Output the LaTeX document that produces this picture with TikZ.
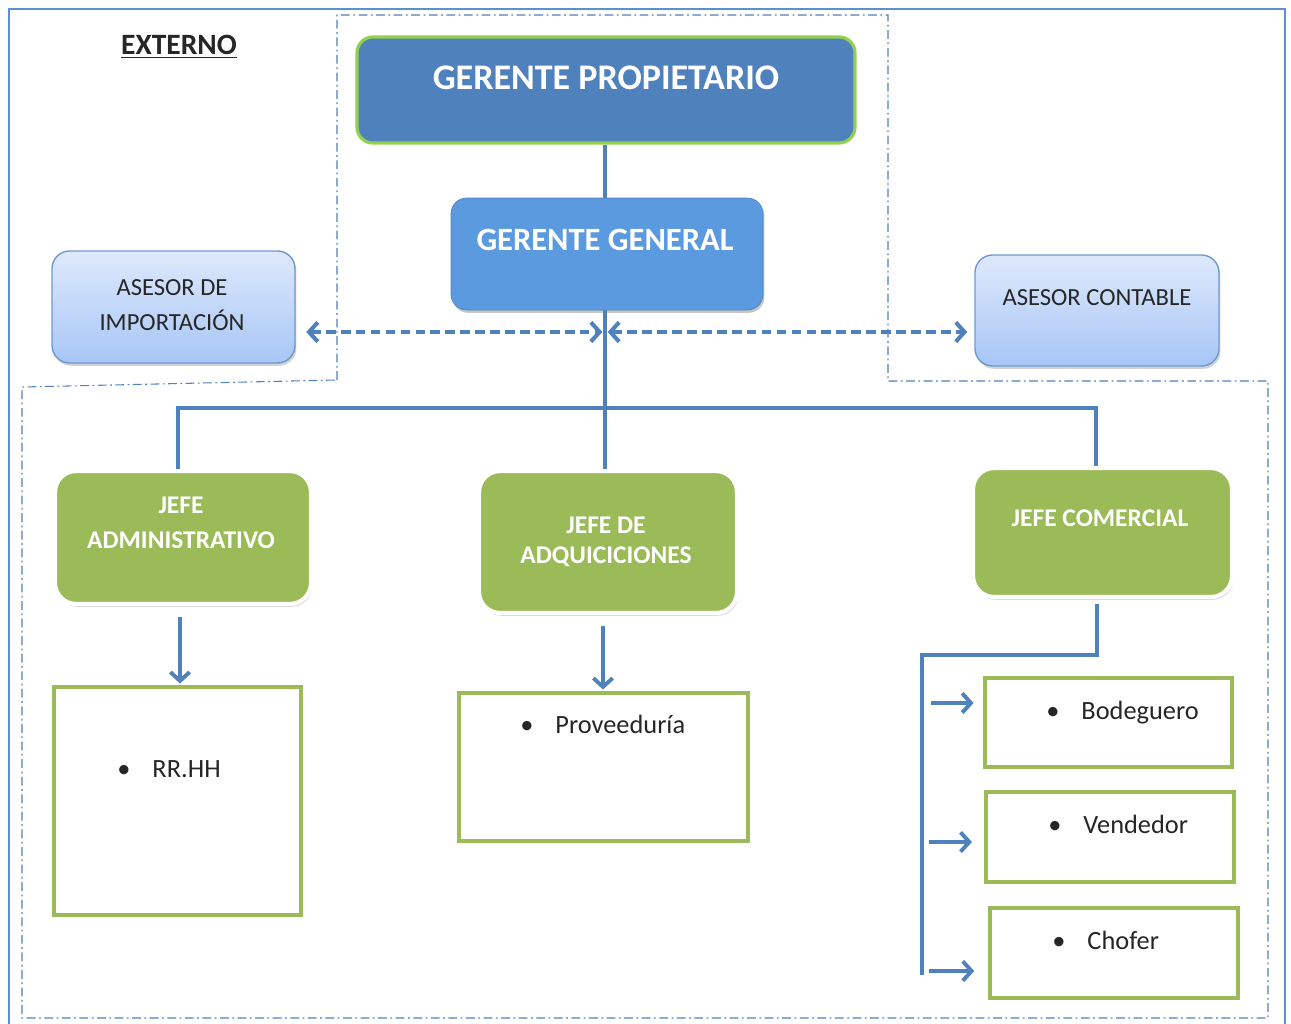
\documentclass[tikz,border=0pt]{standalone}
\usepackage{fontspec}
\setmainfont{Carlito}
\usetikzlibrary{shadows,arrows.meta,fit,calc}
\definecolor{dblue}{HTML}{4F81BD}
\definecolor{ggblue}{HTML}{5C9AE0}
\definecolor{lgreen}{HTML}{92D050}
\definecolor{jgreen}{HTML}{9BBB59}
\definecolor{astop}{HTML}{DEE9FC}
\definecolor{asbot}{HTML}{A7C6F6}
\definecolor{asedge}{HTML}{6E9AD3}
\definecolor{fblue}{HTML}{5B8FD6}
\tikzset{
  frameline/.style={draw=fblue, line width=1.1pt},
  zone/.style={draw=dblue, line width=0.6pt, dash pattern=on 5pt off 2pt on 1pt off 2pt},
  gpbox/.style={fill=dblue, draw=lgreen, line width=1.8pt, rounded corners=9pt, inner sep=0pt},
  ggbox/.style={fill=ggblue, draw=ggblue!85!black, line width=0.4pt, rounded corners=9pt, inner sep=0pt,
    drop shadow={opacity=0.45, shadow xshift=0.8pt, shadow yshift=-1.6pt}},
  asbox/.style={top color=astop, bottom color=asbot, draw=asedge, line width=0.8pt, rounded corners=10pt, inner sep=0pt,
    drop shadow={opacity=0.35, shadow xshift=0.8pt, shadow yshift=-1.6pt}},
  jbox/.style={fill=jgreen, draw=white, line width=2.4pt, rounded corners=12pt, inner sep=0pt,
    drop shadow={opacity=0.3, shadow xshift=0.8pt, shadow yshift=-1.6pt}},
  sbox/.style={draw=jgreen, line width=2pt, fill=white, inner sep=0pt},
  wtitle/.style={text=white, font=\bfseries, align=center},
  jtext/.style={text=white, font=\fontsize{14.5}{20}\selectfont\bfseries, align=center},
  astext/.style={text=black!85, font=\fontsize{14}{20}\selectfont, align=center},
  itemtext/.style={anchor=west, text=black!85, font=\fontsize{15}{18}\selectfont, text height=1.5ex, text depth=0.25ex, inner sep=0pt},
  conn/.style={draw=dblue, line width=2.2pt},
  connarrow/.style={conn, -{Straight Barb[length=5pt,width=11pt]}},
  darrow/.style={draw=dblue, line width=2.3pt, dash pattern=on 5.5pt off 3pt,
    {Straight Barb[length=5pt,width=11pt]}-{Straight Barb[length=5pt,width=11pt]}}
}
\begin{document}
\begin{tikzpicture}[x=0.02cm,y=-0.02cm]
\clip (0,0) rectangle (1291,1024);
\fill[white] (0,0) rectangle (1291,1024);
% outer frame
\draw[frameline] (9,1040) -- (9,9) -- (1285,9) -- (1285,1040);
% dash-dot zones
\draw[zone] (337,380) -- (337,15) -- (888,15) -- (888,381) -- (1268,381) -- (1268,1018) -- (22,1018) -- (22,387) -- cycle;

\node[font=\fontsize{16.8}{20}\selectfont\bfseries, text=black!85] (ext) at (179,47) {\underline{EXTERNO}};

% boxes
\node[gpbox, fit={(357,37)(855,143)}] (gp) {};
\node[ggbox, fit={(451,198)(763,310)}] (gg) {};
\node[asbox, fit={(52,251)(295,363)}] (aimp) {};
\node[asbox, fit={(975,255)(1219,366)}] (acont) {};
\node[jbox, fit={(55,471)(311,604)}] (ja) {};
\node[jbox, fit={(479,471)(737,613)}] (jda) {};
\node[jbox, fit={(973,468)(1232,597)}] (jc) {};
\node[sbox, fit={(54,687)(301,915)}] (rrhh) {};
\node[sbox, fit={(459,693)(748,841)}] (prov) {};
\node[sbox, fit={(985,678)(1232,767)}] (bod) {};
\node[sbox, fit={(986,792)(1234,882)}] (ven) {};
\node[sbox, fit={(990,908)(1238,998)}] (cho) {};

% texts
\node[wtitle, font=\fontsize{20.5}{22}\selectfont\bfseries] (gpt) at (606,78) {GERENTE PROPIETARIO};
\node[wtitle, font=\fontsize{18.5}{22}\selectfont\bfseries] (ggt) at (605,240) {GERENTE GENERAL};
\node[astext] (aimpt) at (172,305) {ASESOR DE\\IMPORTACIÓN};
\node[astext] (acontt) at (1097,298) {ASESOR CONTABLE};
\node[jtext] (jat) at (181,523) {JEFE\\ADMINISTRATIVO};
\node[jtext, font=\fontsize{14.5}{17}\selectfont\bfseries] (jdat) at (606,542) {JEFE DE\\ADQUICICIONES};
\node[jtext] (jct) at (1100,518) {JEFE COMERCIAL};
\node[itemtext] (rrt) at (117,772) {\makebox[20pt][l]{\textbullet}RR.HH};
\node[itemtext] (pvt) at (520,728) {\makebox[20pt][l]{\textbullet}Proveeduría};
\node[itemtext] (bdt) at (1046,714) {\makebox[20pt][l]{\textbullet}Bodeguero};
\node[itemtext] (vdt) at (1048,828) {\makebox[20pt][l]{\textbullet}Vendedor};
\node[itemtext] (cft) at (1052,944) {\makebox[20pt][l]{\textbullet}Chofer};

% connectors
\coordinate (hub) at (605,332);
\coordinate (bar) at (605,408);
\coordinate (xl) at (178,0);
\coordinate (xm) at (605,0);
\coordinate (xr) at (1096,0);
\draw[conn] (gp.south -| xm) -- (gg.north -| xm);
\draw[conn] (gg.south -| xm) -- (jda.north -| xm);
\draw[conn] (ja.north -| xl) -- (bar -| xl) -- (bar -| xr) -- (jc.north -| xr);
\draw[darrow, shorten <=6pt, shorten >=1.5pt] (aimp.east |- hub) -- (hub);
\draw[darrow, shorten <=1.5pt, shorten >=4pt] (hub) -- (acont.west |- hub);
\draw[connarrow, shorten <=6pt, shorten >=1pt] (ja.south -| 180,0) -- (rrhh.north -| 180,0);
\draw[connarrow, shorten <=6pt, shorten >=1pt] (jda.south -| 603,0) -- (prov.north -| 603,0);
\coordinate (cb) at (922,655);
\coordinate (ce) at (922,975);
\draw[conn, shorten <=3pt] (jc.south -| 1097,0) -- (cb -| 1097,0) -- (cb) -- (ce);
\coordinate (a1) at (931,703);
\coordinate (a2) at (929,842);
\coordinate (a3) at (929,971);
\draw[connarrow, shorten >=5.5pt] (a1) -- (bod.west |- a1);
\draw[connarrow, shorten >=7pt] (a2) -- (ven.west |- a2);
\draw[connarrow, shorten >=8pt] (a3) -- (cho.west |- a3);
\end{tikzpicture}
\end{document}
